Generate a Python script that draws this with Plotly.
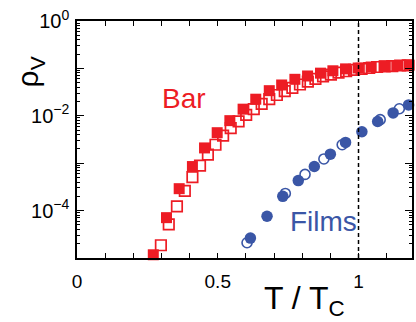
import plotly.graph_objects as go

# Bar: filled and open squares
bar_fill_t = [0.271, 0.318, 0.363, 0.410, 0.453, 0.498, 0.543, 0.590, 0.635, 0.683, 0.727,
              0.774, 0.819, 0.865, 0.909, 0.954, 0.999, 1.045, 1.092, 1.136, 1.180]
bar_fill_rho = [1.17e-5, 7.1e-5, 2.9e-4, 8.5e-4, 2.1e-3, 4.4e-3, 7.9e-3, 0.0138, 0.0224, 0.0339, 0.0447,
                0.0589, 0.0692, 0.0794, 0.0891, 0.0977, 0.102, 0.107, 0.112, 0.115, 0.117]

bar_open_t = [0.298, 0.326, 0.355, 0.383, 0.410, 0.437, 0.465, 0.492, 0.519, 0.546, 0.574,
              0.601, 0.628, 0.656, 0.683, 0.710, 0.738, 0.765, 0.792, 0.820, 0.847, 0.874,
              0.902, 0.929, 0.956, 0.984, 1.011, 1.038, 1.066, 1.093, 1.120, 1.148, 1.175]
bar_open_rho = [1.86e-5, 5.1e-5, 1.23e-4, 2.6e-4, 5.1e-4, 8.9e-4, 1.51e-3, 2.45e-3, 3.8e-3, 5.5e-3, 7.6e-3,
                0.0105, 0.0138, 0.0178, 0.0224, 0.0275, 0.0331, 0.0389, 0.0457, 0.0525, 0.0603, 0.0676,
                0.0741, 0.0813, 0.0871, 0.0933, 0.0977, 0.102, 0.107, 0.110, 0.112, 0.115, 0.116]

# Films: filled and open circles
film_fill_t = [0.616, 0.675, 0.731, 0.786, 0.843, 0.900, 0.954, 1.012, 1.068, 1.123, 1.178]
film_fill_rho = [2.63e-5, 7.6e-5, 2.0e-4, 4.3e-4, 8.5e-4, 1.55e-3, 2.75e-3, 4.6e-3, 7.6e-3, 0.0115, 0.017]

film_open_t = [0.604, 0.740, 0.810, 0.877, 0.942, 1.077, 1.145]
film_open_rho = [2.1e-5, 2.3e-4, 5.8e-4, 1.23e-3, 2.45e-3, 8.3e-3, 0.0141]

x_ticks = [0, 0.1, 0.2, 0.3, 0.4, 0.5, 0.6, 0.7, 0.8, 0.9, 1.0, 1.1]
x_labels = ["0", "", "", "", "", "0.5", "", "", "", "", "1", ""]
y_ticks = [1e-5, 1e-4, 1e-3, 1e-2, 1e-1, 1]
y_labels = ["", "10<sup>−4</sup>", "", "10<sup>−2</sup>", "", "10<sup>0</sup>"]

RED = "#ED1C24"
BLUE = "#3A56A6"
FONT = "Liberation Sans, Arial, Helvetica, sans-serif"

fig = go.Figure()
fig.add_trace(go.Scatter(x=bar_open_t, y=bar_open_rho, mode="markers", cliponaxis=False,
                         marker=dict(symbol="square-open", size=10.5, color=RED, line=dict(width=1.7, color=RED))))
fig.add_trace(go.Scatter(x=bar_fill_t, y=bar_fill_rho, mode="markers", cliponaxis=False,
                         marker=dict(symbol="square", size=11, color=RED, line=dict(width=0))))
fig.add_trace(go.Scatter(x=film_open_t, y=film_open_rho, mode="markers", cliponaxis=False,
                         marker=dict(symbol="circle-open", size=10, color=BLUE, line=dict(width=1.6, color=BLUE))))
fig.add_trace(go.Scatter(x=film_fill_t, y=film_fill_rho, mode="markers", cliponaxis=False,
                         marker=dict(symbol="circle", size=11.5, color=BLUE, line=dict(width=0))))

minor_y = [m * 10 ** e for e in range(-5, 0) for m in range(2, 10)]

fig.update_layout(
    width=416, height=322,
    margin=dict(l=77, r=2, t=21, b=64),
    paper_bgcolor="white", plot_bgcolor="white",
    showlegend=False,
    font=dict(family=FONT, color="black"),
    xaxis=dict(range=[0, 1.19], showgrid=False, zeroline=False,
               showline=True, linecolor="black", linewidth=1.5, mirror="ticks",
               ticks="inside", ticklen=5, tickwidth=1.2, tickcolor="black",
               tickmode="array", tickvals=x_ticks, ticktext=x_labels,
               tickfont=dict(size=19), ticklabelstandoff=5),
    yaxis=dict(type="log", range=[-5, 0], showgrid=False, zeroline=False,
               showline=True, linecolor="black", linewidth=1.5, mirror="ticks",
               ticks="inside", ticklen=7, tickwidth=1.2, tickcolor="black",
               tickmode="array", tickvals=y_ticks, ticktext=y_labels,
               tickfont=dict(size=20), ticklabelstandoff=2,
               minor=dict(tickmode="array", tickvals=minor_y, ticks="inside",
                          ticklen=3.5, tickwidth=1, tickcolor="black")),
)

# dashed marker for T = Tc
fig.add_shape(type="line", xref="x", yref="paper", x0=1, x1=1, y0=0, y1=1,
              line=dict(color="black", width=1.5, dash="4px,3px"))

fig.add_annotation(text="Bar", xref="x", yref="paper", x=0.381, y=0.673,
                   xanchor="center", yanchor="middle",
                   showarrow=False, font=dict(size=28, color=RED, family=FONT))
fig.add_annotation(text="Films", xref="x", yref="paper", x=0.877, y=0.156,
                   xanchor="center", yanchor="middle",
                   showarrow=False, font=dict(size=28, color=BLUE, family=FONT))
fig.add_annotation(text="T / T<sub>C</sub>", xref="paper", yref="paper", x=0.68, y=-0.178,
                   xanchor="center", yanchor="middle",
                   showarrow=False, font=dict(size=32, family=FONT))
fig.add_annotation(text="ρ<sub>V</sub>", xref="paper", yref="paper", x=-0.139, y=0.785,
                   xanchor="center", yanchor="middle",
                   textangle=-90, showarrow=False, font=dict(size=30, family=FONT))

fig.write_html("out.html")
